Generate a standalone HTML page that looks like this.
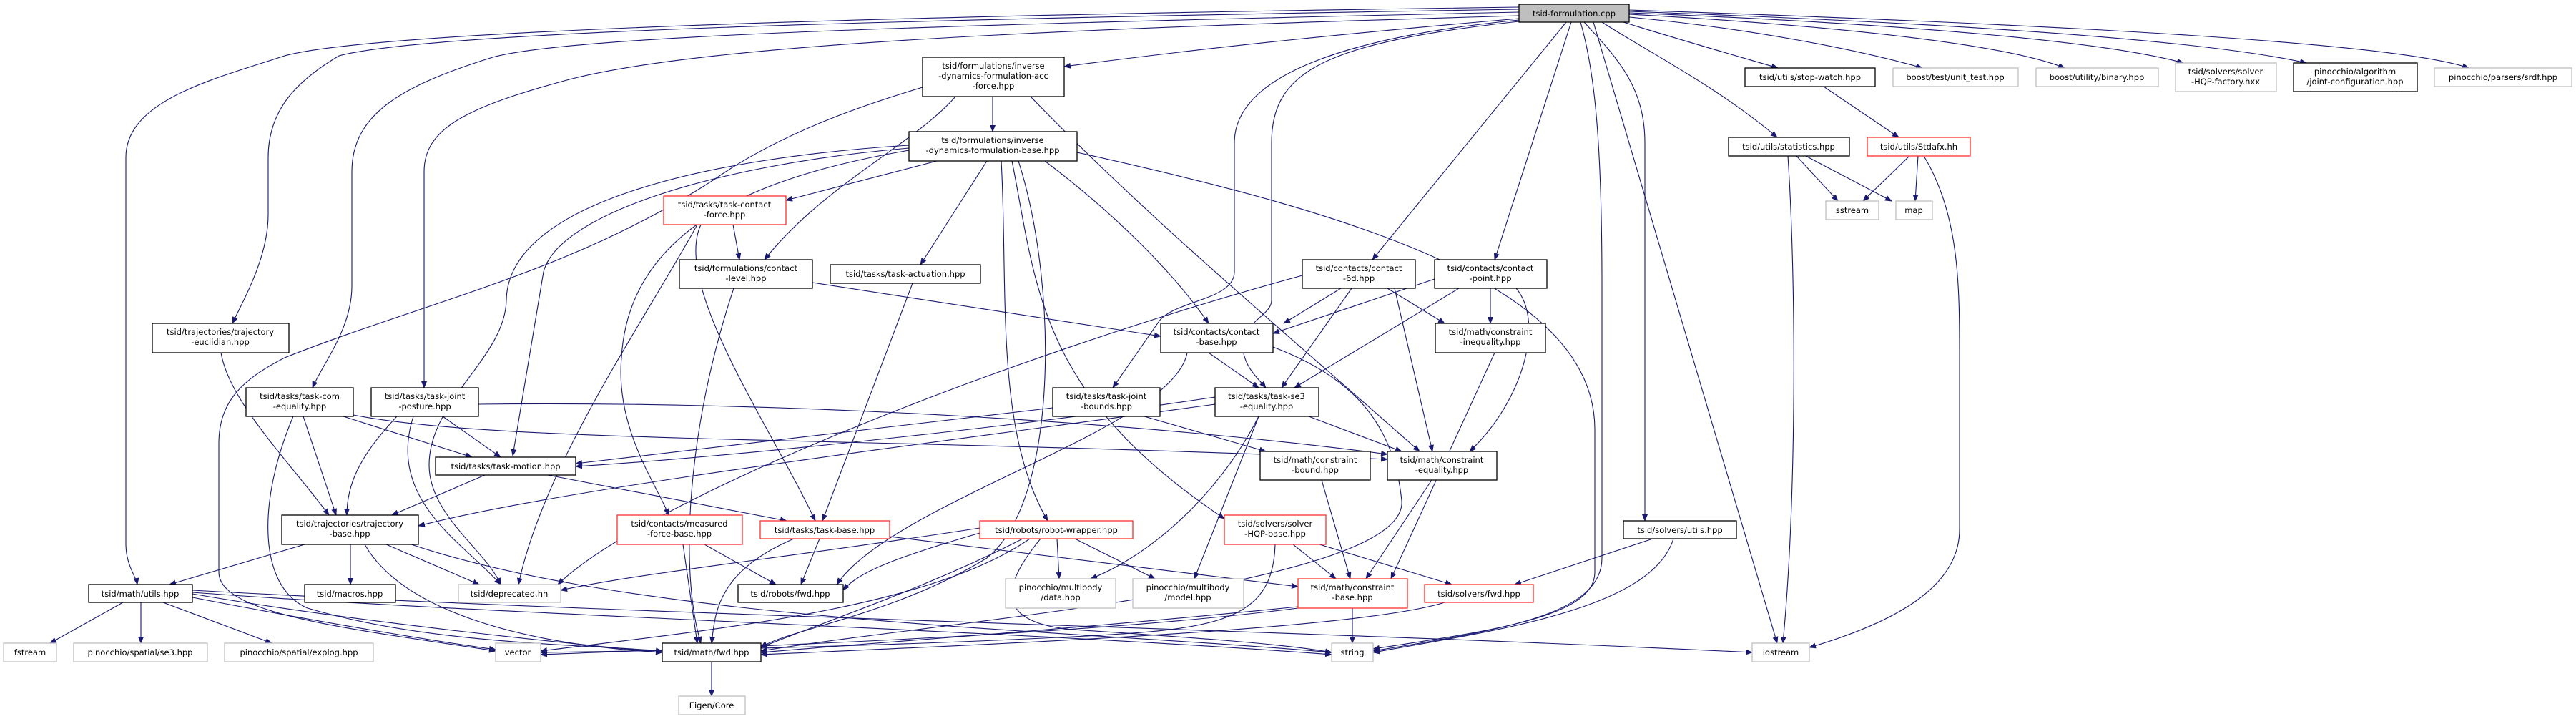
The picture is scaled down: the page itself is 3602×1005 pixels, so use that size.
<!DOCTYPE html>
<html><head><meta charset="utf-8"><style>
html,body{margin:0;padding:0;background:#fff;}
svg{display:block;}
text{font-family:"DejaVu Sans","Liberation Sans",sans-serif;font-size:11.5px;fill:#000;text-anchor:middle;}
.e{fill:none;stroke:#191970;stroke-width:1.1;marker-end:url(#a);}
.nb{fill:#fff;stroke:#000;stroke-width:1.3;}
.ng{fill:#fff;stroke:#bfbfbf;stroke-width:1.3;}
.nr{fill:#fff;stroke:#ff3030;stroke-width:1.3;}
.nm{fill:#bfbfbf;stroke:#000;stroke-width:1.3;}
</style></head><body>
<svg width="3602" height="1005" viewBox="0 0 3602 1005" xmlns="http://www.w3.org/2000/svg">
<defs><marker id="a" markerWidth="10" markerHeight="8" refX="9" refY="4" orient="auto" markerUnits="userSpaceOnUse"><path d="M0,0 L10,4 L0,8 z" fill="#191970"/></marker></defs>
<g>
<!-- main edges -->
<path class="e" d="M2124,26 C1900,45 1700,65 1488,93"/>
<path class="e" d="M2124,10 C1000,25 500,50 398,78 C300,110 176,140 176,220 L176,760 C176,790 190,805 192,817"/>
<path class="e" d="M2124,13 C1200,28 600,45 474,78 C420,110 375,150 375,220 L375,300 C375,360 340,420 325,452"/>
<path class="e" d="M2124,17 C1300,35 800,50 689,80 C560,120 492,160 492,240 L492,400 C492,460 450,510 437,542"/>
<path class="e" d="M2124,22 C1500,40 1000,60 800,110 C650,150 593,180 593,240 L593,542"/>
<path class="e" d="M2124,28 C1900,50 1726,100 1726,200 L1726,380 C1726,420 1640,420 1620,450 L1556,542"/>
<path class="e" d="M2124,30 C1850,60 1778,100 1778,200 L1778,420 C1778,440 1740,450 1738,480 C1736,510 1760,530 1770,542"/>
<path class="e" d="M2190,31 L1919,363"/>
<path class="e" d="M2197,31 L2090,363"/>
<path class="e" d="M2215,31 C2260,80 2300,120 2300,200 L2300,728"/>
<path class="e" d="M2210,31 C2230,100 2240,200 2240,400 L2240,780 C2240,860 2100,880 1920,910"/>
<path class="e" d="M2228,31 L2485,899"/>
<path class="e" d="M2240,31 C2300,70 2400,120 2485,192"/>
<path class="e" d="M2270,31 C2330,50 2400,70 2486,95"/>
<path class="e" d="M2278,24 C2450,40 2600,70 2688,95"/>
<path class="e" d="M2278,20 C2550,35 2800,60 2887,95"/>
<path class="e" d="M2278,18 C2700,35 2950,60 3053,88"/>
<path class="e" d="M2278,16 C2800,35 3100,60 3225,88"/>
<path class="e" d="M2278,14 C2900,35 3350,60 3452,95"/>
<!-- acc-force -->
<path class="e" d="M1388,135 L1388,184"/>
<path class="e" d="M1336,135 C1280,200 1150,260 1069,363"/>
<path class="e" d="M1441,135 C1600,300 1780,450 1985,631"/>
<path class="e" d="M1290,122 C1230,140 1100,180 1000,250 C800,380 600,420 398,500 C340,530 306,560 306,620 L306,800 C306,860 500,880 693,910"/>
<!-- formulation base -->
<path class="e" d="M1310,225 L1099,280"/>
<path class="e" d="M1380,225 L1287,370"/>
<path class="e" d="M1461,225 C1560,300 1640,380 1690,452"/>
<path class="e" d="M1400,225 C1410,400 1390,600 1465,728"/>
<path class="e" d="M1415,225 C1450,400 1450,550 1712,725"/>
<path class="e" d="M1506,213 C1900,300 2230,400 2230,600 L2230,800 C2230,860 2100,880 1920,907"/>
<path class="e" d="M1424,225 C1480,400 1480,700 1380,780 C1250,860 1100,880 1064,905"/>
<path class="e" d="M1271,207 C1000,230 780,300 760,380 L717,637"/>
<path class="e" d="M1271,203 C1000,220 710,280 708,420 C706,500 600,560 600,650 C600,720 680,770 700,817"/>
<path class="e" d="M1271,210 C1100,240 880,300 869,500 C860,600 920,680 935,720"/>
<!-- contact-force -->
<path class="e" d="M1025,314 L1034,363"/>
<path class="e" d="M980,314 C940,400 1080,600 1140,728"/>
<path class="e" d="M975,314 C900,450 760,650 725,817"/>
<!-- contact level -->
<path class="e" d="M1136,395 L1623,470"/>
<path class="e" d="M1026,403 C960,600 950,800 980,899"/>
<!-- task actuation -->
<path class="e" d="M1276,396 L1150,728"/>
<!-- contact 6d -->
<path class="e" d="M1875,403 L1795,452"/>
<path class="e" d="M1890,403 L1792,542"/>
<path class="e" d="M1940,403 L2020,452"/>
<path class="e" d="M1950,403 L2003,631"/>
<path class="e" d="M1821,385 C1400,500 900,700 780,817"/>
<!-- contact point -->
<path class="e" d="M2006,390 L1780,466"/>
<path class="e" d="M2040,403 L1810,542"/>
<path class="e" d="M2084,403 L2084,452"/>
<path class="e" d="M2120,403 C2160,450 2130,560 2055,631"/>
<!-- contact base -->
<path class="e" d="M1690,493 L1760,542"/>
<path class="e" d="M1660,493 C1640,600 1250,700 1170,817"/>
<path class="e" d="M1780,485 C1900,530 1950,600 1960,700 C1970,820 1300,870 1064,910"/>
<!-- constraint inequality -->
<path class="e" d="M2090,493 L1945,809"/>
<!-- task-se3 -->
<path class="e" d="M1699,555 C1400,600 1000,640 805,652"/>
<path class="e" d="M1699,565 C1300,620 800,680 585,735"/>
<path class="e" d="M1830,582 L1960,631"/>
<path class="e" d="M1760,582 C1700,700 1600,780 1525,809"/>
<path class="e" d="M1760,582 L1670,809"/>
<!-- task joint bounds -->
<path class="e" d="M1472,570 C1200,600 950,630 805,648"/>
<path class="e" d="M1600,582 L1770,631"/>
<!-- task joint posture -->
<path class="e" d="M619,582 L700,639"/>
<path class="e" d="M555,582 C500,640 485,680 485,720"/>
<path class="e" d="M578,582 C540,700 650,760 700,817"/>
<path class="e" d="M669,565 C1100,560 1600,590 1940,635"/>
<!-- task com -->
<path class="e" d="M480,582 L660,639"/>
<path class="e" d="M424,582 L470,720"/>
<path class="e" d="M494,580 C700,620 1200,610 1940,642"/>
<path class="e" d="M410,582 C360,700 360,820 430,850 C600,900 800,900 926,910"/>
<!-- task motion -->
<path class="e" d="M678,664 L548,720"/>
<path class="e" d="M766,664 L1100,728"/>
<!-- trajectory euclidian -->
<path class="e" d="M309,493 C320,560 400,640 460,720"/>
<!-- trajectory base -->
<path class="e" d="M426,761 L237,817"/>
<path class="e" d="M490,761 L490,817"/>
<path class="e" d="M540,761 L670,817"/>
<path class="e" d="M510,761 C560,850 720,900 926,912"/>
<path class="e" d="M575,761 C900,870 1500,880 1862,912"/>
<!-- measured force base -->
<path class="e" d="M985,761 L1085,817"/>
<path class="e" d="M955,761 L975,899"/>
<!-- task base -->
<path class="e" d="M1146,753 L1120,817"/>
<path class="e" d="M1110,753 C1000,800 1000,860 995,899"/>
<path class="e" d="M1244,750 L1815,820"/>
<!-- robot wrapper -->
<path class="e" d="M1478,753 L1481,809"/>
<path class="e" d="M1503,753 L1615,809"/>
<path class="e" d="M1370,745 C1250,780 1200,800 1179,825"/>
<path class="e" d="M1430,753 C1300,820 1150,870 1064,905"/>
<path class="e" d="M1440,753 C1300,850 1000,880 756,910"/>
<path class="e" d="M1455,753 C1400,820 1390,870 1500,880 C1650,890 1800,900 1862,912"/>
<path class="e" d="M1370,738 C1100,780 900,800 784,825"/>
<!-- solver hqp base -->
<path class="e" d="M1808,761 L1868,809"/>
<path class="e" d="M1845,761 L2030,817"/>
<path class="e" d="M1783,761 C1780,870 1700,880 1500,890 C1200,905 900,910 756,912"/>
<!-- constraint bound/equality -->
<path class="e" d="M1848,671 L1888,809"/>
<path class="e" d="M2002,671 L1910,809"/>
<!-- constraint base -->
<path class="e" d="M1815,848 C1500,880 1200,900 1064,912"/>
<path class="e" d="M1891,850 L1891,899"/>
<path class="e" d="M1815,850 C1500,890 1000,905 756,915"/>
<!-- solvers fwd -->
<path class="e" d="M2020,842 C1900,880 1400,900 1064,915"/>
<!-- solvers utils -->
<path class="e" d="M2311,753 L2118,817"/>
<path class="e" d="M2340,753 C2310,850 2100,880 1920,912"/>
<!-- math utils -->
<path class="e" d="M172,842 L70,899"/>
<path class="e" d="M197,842 L197,899"/>
<path class="e" d="M228,842 L380,899"/>
<path class="e" d="M269,835 C450,870 600,895 693,908"/>
<path class="e" d="M269,830 C500,870 800,900 926,912"/>
<path class="e" d="M269,828 C700,860 1400,880 1862,915"/>
<path class="e" d="M269,825 C900,860 1800,880 2450,912"/>
<!-- math fwd -->
<path class="e" d="M995,925 L995,973"/>
<!-- utils -->
<path class="e" d="M2550,121 L2655,192"/>
<path class="e" d="M2512,218 L2570,281"/>
<path class="e" d="M2525,218 L2645,281"/>
<path class="e" d="M2500,218 C2512,400 2512,700 2493,899"/>
<path class="e" d="M2670,218 L2605,281"/>
<path class="e" d="M2682,218 L2678,281"/>
<path class="e" d="M2690,218 C2740,300 2740,400 2740,500 L2740,740 C2740,820 2650,870 2530,905"/>
</g>
<g>
<rect class="nm" x="2124" y="6" width="154" height="25"/><text x="2201" y="23">tsid-formulation.cpp</text>
<rect class="nb" x="1290" y="80" width="198" height="55"/><text x="1389" y="96">tsid/formulations/inverse</text><text x="1389" y="110">-dynamics-formulation-acc</text><text x="1389" y="124">-force.hpp</text>
<rect class="nb" x="1271" y="184" width="235" height="41"/><text x="1388" y="200">tsid/formulations/inverse</text><text x="1388" y="214">-dynamics-formulation-base.hpp</text>
<rect class="nr" x="928" y="274" width="171" height="40"/><text x="1013" y="290">tsid/tasks/task-contact</text><text x="1013" y="304">-force.hpp</text>
<rect class="nb" x="950" y="363" width="186" height="40"/><text x="1043" y="379">tsid/formulations/contact</text><text x="1043" y="393">-level.hpp</text>
<rect class="nb" x="1161" y="370" width="210" height="26"/><text x="1266" y="387">tsid/tasks/task-actuation.hpp</text>
<rect class="nb" x="1821" y="363" width="158" height="40"/><text x="1900" y="379">tsid/contacts/contact</text><text x="1900" y="393">-6d.hpp</text>
<rect class="nb" x="2006" y="363" width="157" height="40"/><text x="2084" y="379">tsid/contacts/contact</text><text x="2084" y="393">-point.hpp</text>
<rect class="nb" x="1623" y="452" width="157" height="41"/><text x="1701" y="468">tsid/contacts/contact</text><text x="1701" y="482">-base.hpp</text>
<rect class="nb" x="2007" y="452" width="154" height="41"/><text x="2084" y="468">tsid/math/constraint</text><text x="2084" y="482">-inequality.hpp</text>
<rect class="nb" x="213" y="452" width="191" height="41"/><text x="308" y="468">tsid/trajectories/trajectory</text><text x="308" y="482">-euclidian.hpp</text>
<rect class="nb" x="2440" y="95" width="182" height="26"/><text x="2531" y="112">tsid/utils/stop-watch.hpp</text>
<rect class="ng" x="2647" y="95" width="175" height="26"/><text x="2734" y="112">boost/test/unit_test.hpp</text>
<rect class="ng" x="2847" y="95" width="171" height="26"/><text x="2932" y="112">boost/utility/binary.hpp</text>
<rect class="ng" x="3042" y="88" width="141" height="40"/><text x="3112" y="104">tsid/solvers/solver</text><text x="3112" y="118">-HQP-factory.hxx</text>
<rect class="nb" x="3207" y="88" width="173" height="40"/><text x="3293" y="104">pinocchio/algorithm</text><text x="3293" y="118">/joint-configuration.hpp</text>
<rect class="ng" x="3404" y="95" width="192" height="26"/><text x="3500" y="112">pinocchio/parsers/srdf.hpp</text>
<rect class="nb" x="2417" y="192" width="169" height="26"/><text x="2501" y="209">tsid/utils/statistics.hpp</text>
<rect class="nr" x="2611" y="192" width="144" height="26"/><text x="2683" y="209">tsid/utils/Stdafx.hh</text>
<rect class="ng" x="2553" y="281" width="74" height="26"/><text x="2590" y="298">sstream</text>
<rect class="ng" x="2651" y="281" width="51" height="26"/><text x="2676" y="298">map</text>
<rect class="nb" x="344" y="542" width="150" height="40"/><text x="419" y="558">tsid/tasks/task-com</text><text x="419" y="572">-equality.hpp</text>
<rect class="nb" x="519" y="542" width="150" height="40"/><text x="594" y="558">tsid/tasks/task-joint</text><text x="594" y="572">-posture.hpp</text>
<rect class="nb" x="1472" y="542" width="150" height="40"/><text x="1547" y="558">tsid/tasks/task-joint</text><text x="1547" y="572">-bounds.hpp</text>
<rect class="nb" x="1699" y="542" width="145" height="40"/><text x="1771" y="558">tsid/tasks/task-se3</text><text x="1771" y="572">-equality.hpp</text>
<rect class="nb" x="609" y="639" width="196" height="25"/><text x="707" y="656">tsid/tasks/task-motion.hpp</text>
<rect class="nb" x="1762" y="631" width="154" height="40"/><text x="1839" y="647">tsid/math/constraint</text><text x="1839" y="661">-bound.hpp</text>
<rect class="nb" x="1940" y="631" width="153" height="40"/><text x="2016" y="647">tsid/math/constraint</text><text x="2016" y="661">-equality.hpp</text>
<rect class="nb" x="394" y="720" width="191" height="41"/><text x="489" y="736">tsid/trajectories/trajectory</text><text x="489" y="750">-base.hpp</text>
<rect class="nr" x="863" y="720" width="175" height="41"/><text x="950" y="736">tsid/contacts/measured</text><text x="950" y="750">-force-base.hpp</text>
<rect class="nr" x="1063" y="728" width="181" height="25"/><text x="1153" y="745">tsid/tasks/task-base.hpp</text>
<rect class="nr" x="1370" y="728" width="214" height="25"/><text x="1477" y="745">tsid/robots/robot-wrapper.hpp</text>
<rect class="nr" x="1712" y="720" width="142" height="41"/><text x="1783" y="736">tsid/solvers/solver</text><text x="1783" y="750">-HQP-base.hpp</text>
<rect class="nb" x="2270" y="728" width="158" height="25"/><text x="2349" y="745">tsid/solvers/utils.hpp</text>
<rect class="nb" x="124" y="817" width="145" height="25"/><text x="196" y="834">tsid/math/utils.hpp</text>
<rect class="nb" x="426" y="817" width="127" height="25"/><text x="489" y="834">tsid/macros.hpp</text>
<rect class="ng" x="641" y="817" width="143" height="25"/><text x="712" y="834">tsid/deprecated.hh</text>
<rect class="nb" x="1032" y="817" width="147" height="25"/><text x="1105" y="834">tsid/robots/fwd.hpp</text>
<rect class="ng" x="1406" y="809" width="154" height="41"/><text x="1483" y="825">pinocchio/multibody</text><text x="1483" y="839">/data.hpp</text>
<rect class="ng" x="1584" y="809" width="155" height="41"/><text x="1661" y="825">pinocchio/multibody</text><text x="1661" y="839">/model.hpp</text>
<rect class="nr" x="1815" y="809" width="153" height="41"/><text x="1891" y="825">tsid/math/constraint</text><text x="1891" y="839">-base.hpp</text>
<rect class="nr" x="1992" y="817" width="152" height="25"/><text x="2068" y="834">tsid/solvers/fwd.hpp</text>
<rect class="ng" x="5" y="899" width="74" height="26"/><text x="42" y="916">fstream</text>
<rect class="ng" x="103" y="899" width="187" height="26"/><text x="196" y="916">pinocchio/spatial/se3.hpp</text>
<rect class="ng" x="314" y="899" width="208" height="26"/><text x="418" y="916">pinocchio/spatial/explog.hpp</text>
<rect class="ng" x="693" y="899" width="63" height="26"/><text x="724" y="916">vector</text>
<rect class="nb" x="926" y="899" width="138" height="26"/><text x="995" y="916">tsid/math/fwd.hpp</text>
<rect class="ng" x="1862" y="899" width="58" height="26"/><text x="1891" y="916">string</text>
<rect class="ng" x="2450" y="899" width="80" height="26"/><text x="2490" y="916">iostream</text>
<rect class="ng" x="949" y="973" width="93" height="26"/><text x="995" y="990">Eigen/Core</text>
</g>
</svg>
</body></html>
